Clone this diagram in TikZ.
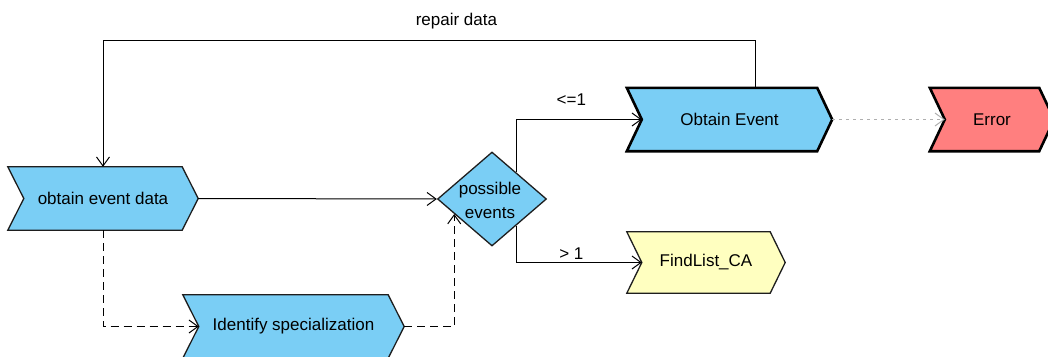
\documentclass[tikz,border=0pt]{standalone}
\usepackage{fontspec}
\setmainfont{Liberation Sans}
\usetikzlibrary{arrows.meta,calc,shapes.geometric,backgrounds}
\definecolor{evblue}{RGB}{122,206,245}
\definecolor{evred}{RGB}{255,127,127}
\definecolor{evyellow}{RGB}{255,255,192}
\definecolor{evborder}{RGB}{30,30,30}
\definecolor{dotgray}{RGB}{175,175,175}
\newcommand\chevdraw[3]{%
  \begin{scope}[on background layer]
    \draw[#3] (#1.north west) -- ($(#1.north east)+(-#2,0)$) -- (#1.east)
      -- ($(#1.south east)+(-#2,0)$) -- (#1.south west) -- ($(#1.west)+(#2,0)$) -- cycle;
  \end{scope}}
\tikzset{
  x=1pt, y=-1pt,
  every node/.style={font=\fontsize{17}{20}\selectfont, text=black},
  chevbox/.style={rectangle, inner sep=0pt},
  thinborder/.style={draw=evborder, line width=1.3pt, line join=miter},
  thickborder/.style={draw=black, line width=2.6pt, line join=miter},
  conn/.style={draw=black, line width=1pt, -{Straight Barb[length=9pt,width=13pt,line width=1pt]}},
  dashconn/.style={conn, dash pattern=on 8pt off 5pt},
  dotconn/.style={draw=dotgray, line width=1pt, dash pattern=on 3pt off 4pt, -{Straight Barb[length=9pt,width=13pt,line width=1pt]}},
  lbl/.style={inner sep=0pt, font=\fontsize{17}{20}\selectfont},
}
\begin{document}
\begin{tikzpicture}
\useasboundingbox (0,0) rectangle (1048,356);
% nodes
\node[chevbox, minimum width=190pt, minimum height=63pt] (oed) at (103,198.5) {obtain event data};
\node[chevbox, minimum width=221pt, minimum height=63pt] (idsp) at (293.5,326.5) {Identify specialization};
\node[chevbox, minimum width=205pt, minimum height=63pt] (oev) at (729.5,119.5) {Obtain Event};
\node[chevbox, minimum width=124pt, minimum height=63pt] (err) at (992,119.5) {Error};
\node[chevbox, minimum width=158pt, minimum height=61pt] (fl) at (706,262.5) {FindList\_CA};
\node[diamond, draw=evborder, line width=1.3pt, fill=evblue, inner sep=0pt, aspect=1.16,
      minimum width=109pt, minimum height=94pt] (dec) at (492,199) {};
\node[align=center, inner sep=0pt, font=\fontsize{17}{24}\selectfont] (dectext) at (490,200) {possible\\events};
% shapes
\chevdraw{oed}{16pt}{thinborder, fill=evblue}
\chevdraw{idsp}{16pt}{thinborder, fill=evblue}
\chevdraw{oev}{15pt}{thickborder, fill=evblue}
\chevdraw{err}{15pt}{thickborder, fill=evred}
\chevdraw{fl}{15pt}{thinborder, fill=evyellow}
% anchor points
\coordinate (oevin) at ($(oev.west)+(15pt,0)$);
\coordinate (errin) at ($(err.west)+(15pt,0)$);
\coordinate (flin) at ($(fl.west)+(15pt,0)$);
\coordinate (idin) at ($(idsp.west)+(16pt,0)$);
\coordinate (dtop) at ($(dec.north)!0.436!(dec.east)$);
\coordinate (dbot) at ($(dec.south)!0.436!(dec.east)$);
\coordinate (dll) at ($(dec.south)!0.685!(dec.west)$);
\coordinate (oevtop) at ($(oev.north)+(25.5pt,0)$);
\coordinate (rtop) at (755,40);
% connectors
\draw[conn] (oed.east) -- (dec.west);
\draw[conn] (dtop) |- node[lbl, pos=0.72, above=14pt] {<=1} (oevin);
\draw[conn] (dbot) |- node[lbl, pos=0.72, above=3pt] {> 1} (flin);
\draw[dotconn] (oev.east) -- (errin);
\draw[conn] (oevtop) -- (rtop) -| node[lbl, pos=0.229, above=10pt] {repair data} (oed.north);
\draw[dashconn] (oed.south) |- (idin);
\draw[dashconn] (idsp.east) -| (dll);
\end{tikzpicture}
\end{document}
